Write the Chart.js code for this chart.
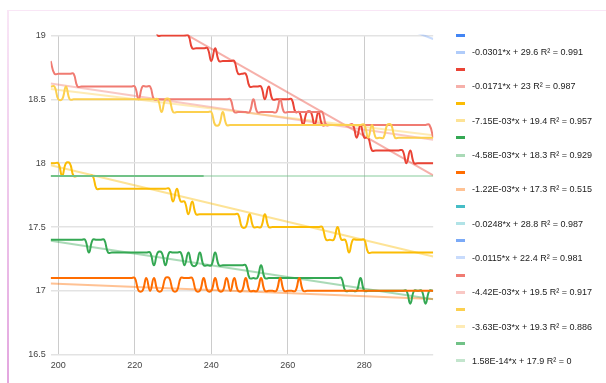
<!DOCTYPE html>
<html>
<head>
<meta charset="utf-8">
<title>Series with linear trendlines</title>
<script src="https://cdn.jsdelivr.net/npm/chart.js@4.4.1/dist/chart.umd.min.js"></script>
<style>
  html, body { margin: 0; padding: 0; background: #ffffff; }
  #wrap { position: relative; width: 606px; height: 383px; overflow: hidden;
          font-family: "Liberation Sans", Arial, sans-serif; }
  #frameTop { position: absolute; left: 7px; top: 10px; right: 0; height: 1px; background: #f9e6f6; }
  #frameLeft { position: absolute; left: 7px; top: 10px; width: 2px; bottom: 0;
               background: linear-gradient(to bottom, #f9e6f6, #e3a6df); }
  #chart { position: absolute; left: 0; top: 0; }
  #legend { position: absolute; left: 0; top: 0; width: 606px; height: 383px; pointer-events: none; }
  .swatch { position: absolute; left: 456px; width: 9px; height: 3px; }
  .label { position: absolute; left: 472px; height: 12px; line-height: 12px; font-size: 9px;
           color: #222222; white-space: nowrap; }
</style>
</head>
<body>
<div id="wrap">
  <div id="frameTop"></div>
  <div id="frameLeft"></div>
  <canvas id="chart" width="606" height="383"></canvas>
  <div id="legend"></div>
</div>
<script>
// Sample positions on the x axis (one reading per unit step).
const xValues = Array.from({ length: 101 }, (_, i) => 198 + i);

// Axis ticks.
const xTicks = [200, 220, 240, 260, 280];
const yTicks = [16.5, 17, 17.5, 18, 18.5, 19];
const yTickLabels = ['16.5', '17', '17.5', '18', '18.5', '19'];

// Series colours.
const seriesColors = ['#4285F4', '#EA4335', '#FBBC04', '#34A853', '#FF6D01',
                      '#46BDC6', '#7BAAF7', '#F07B72', '#FCD04F', '#71C287'];

// Linear trendline equations (slope, intercept) and their legend texts.
const trendSlopes = [-0.0301, -0.0171, -7.15e-3, -4.58e-3, -1.22e-3,
                     -0.0248, -0.0115, -4.42e-3, -3.63e-3, 1.58e-14];
const trendIntercepts = [29.6, 23, 19.4, 18.3, 17.3, 28.8, 22.4, 19.5, 19.3, 17.9];
const trendLabels = [
  '-0.0301*x + 29.6 R\u00B2 = 0.991',
  '-0.0171*x + 23 R\u00B2 = 0.987',
  '-7.15E-03*x + 19.4 R\u00B2 = 0.957',
  '-4.58E-03*x + 18.3 R\u00B2 = 0.929',
  '-1.22E-03*x + 17.3 R\u00B2 = 0.515',
  '-0.0248*x + 28.8 R\u00B2 = 0.987',
  '-0.0115*x + 22.4 R\u00B2 = 0.981',
  '-4.42E-03*x + 19.5 R\u00B2 = 0.917',
  '-3.63E-03*x + 19.3 R\u00B2 = 0.886',
  '1.58E-14*x + 17.9 R\u00B2 = 0'
];

// Series readings, x = 198 ... 298.
// Series 1, 6 and 7 run above the 19 ceiling of the window, so none of their points are in view.
const series1 = [];
const series2 = [
  19.6, 19.6, 19.6, 19.5, 19.5, 19.5, 19.5, 19.5, 19.5, 19.4,
  19.4, 19.4, 19.4, 19.4, 19.4, 19.3, 19.3, 19.3, 19.3, 19.3,
  19.3, 19.2, 19.2, 19.2, 19.2, 19.1, 19.1, 19.1, 19.0, 19.0,
  19.0, 19.0, 19.0, 19.0, 19.0, 19.0, 19.0, 18.9, 18.9, 18.9,
  18.9, 18.9, 18.8, 18.9, 18.8, 18.8, 18.8, 18.8, 18.8, 18.7,
  18.7, 18.7, 18.6, 18.6, 18.6, 18.6, 18.5, 18.6, 18.5, 18.5,
  18.5, 18.5, 18.5, 18.5, 18.4, 18.4, 18.3, 18.4, 18.4, 18.3,
  18.4, 18.3, 18.3, 18.3, 18.3, 18.3, 18.3, 18.3, 18.3, 18.3,
  18.2, 18.3, 18.2, 18.2, 18.1, 18.1, 18.1, 18.1, 18.1, 18.1,
  18.1, 18.1, 18.1, 18.0, 18.1, 18.0, 18.0, 18.0, 18.0, 18.0,
  18.0
];
const series3 = [
  18.0, 18.0, 18.0, 17.9, 18.0, 18.0, 17.9, 17.9, 17.9, 17.9,
  17.9, 17.9, 17.8, 17.8, 17.8, 17.8, 17.8, 17.8, 17.8, 17.8,
  17.8, 17.8, 17.8, 17.8, 17.8, 17.8, 17.8, 17.8, 17.8, 17.8,
  17.8, 17.8, 17.7, 17.8, 17.7, 17.7, 17.6, 17.7, 17.6, 17.6,
  17.6, 17.6, 17.6, 17.6, 17.6, 17.6, 17.6, 17.6, 17.6, 17.6,
  17.5, 17.5, 17.6, 17.5, 17.5, 17.5, 17.6, 17.5, 17.5, 17.5,
  17.5, 17.5, 17.5, 17.5, 17.5, 17.5, 17.5, 17.5, 17.5, 17.5,
  17.5, 17.5, 17.4, 17.4, 17.4, 17.5, 17.4, 17.4, 17.3, 17.4,
  17.4, 17.4, 17.4, 17.3, 17.3, 17.3, 17.3, 17.3, 17.3, 17.3,
  17.3, 17.3, 17.3, 17.3, 17.3, 17.3, 17.3, 17.3, 17.3, 17.3,
  17.3
];
const series4 = [
  17.4, 17.4, 17.4, 17.4, 17.4, 17.4, 17.4, 17.4, 17.4, 17.4,
  17.3, 17.4, 17.4, 17.4, 17.4, 17.3, 17.3, 17.3, 17.3, 17.3,
  17.3, 17.3, 17.3, 17.3, 17.3, 17.3, 17.3, 17.2, 17.3, 17.3,
  17.2, 17.3, 17.3, 17.3, 17.3, 17.2, 17.3, 17.2, 17.2, 17.3,
  17.2, 17.2, 17.2, 17.3, 17.2, 17.2, 17.2, 17.2, 17.2, 17.2,
  17.2, 17.2, 17.1, 17.1, 17.1, 17.2, 17.1, 17.1, 17.1, 17.1,
  17.1, 17.1, 17.1, 17.1, 17.1, 17.1, 17.1, 17.1, 17.1, 17.1,
  17.1, 17.1, 17.1, 17.1, 17.1, 17.1, 17.1, 17.0, 17.0, 17.0,
  17.0, 17.1, 17.0, 17.0, 17.0, 17.0, 17.0, 17.0, 17.0, 17.0,
  17.0, 17.0, 17.0, 17.0, 16.9, 17.0, 17.0, 17.0, 16.9, 17.0,
  17.0
];
const series5 = [
  17.1, 17.1, 17.1, 17.1, 17.1, 17.1, 17.1, 17.1, 17.1, 17.1,
  17.1, 17.1, 17.1, 17.1, 17.1, 17.1, 17.1, 17.1, 17.1, 17.1,
  17.1, 17.1, 17.1, 17.0, 17.0, 17.1, 17.0, 17.1, 17.0, 17.0,
  17.1, 17.1, 17.0, 17.0, 17.1, 17.1, 17.1, 17.1, 17.0, 17.0,
  17.1, 17.0, 17.0, 17.1, 17.0, 17.0, 17.1, 17.0, 17.1, 17.0,
  17.0, 17.1, 17.0, 17.0, 17.0, 17.1, 17.0, 17.0, 17.0, 17.0,
  17.1, 17.0, 17.0, 17.0, 17.0, 17.1, 17.0, 17.0, 17.0, 17.0,
  17.0, 17.0, 17.0, 17.0, 17.0, 17.0, 17.0, 17.0, 17.0, 17.0,
  17.0, 17.0, 17.0, 17.0, 17.0, 17.0, 17.0, 17.0, 17.0, 17.0,
  17.0, 17.0, 17.0, 17.0, 17.0, 17.0, 17.0, 17.0, 17.0, 17.0,
  17.0
];
const series6 = [];
const series7 = [];
const series8 = [
  18.8, 18.7, 18.7, 18.7, 18.7, 18.7, 18.7, 18.6, 18.6, 18.6,
  18.6, 18.6, 18.6, 18.6, 18.6, 18.6, 18.6, 18.6, 18.6, 18.6,
  18.6, 18.6, 18.6, 18.5, 18.6, 18.6, 18.6, 18.5, 18.5, 18.5,
  18.5, 18.5, 18.5, 18.5, 18.5, 18.5, 18.5, 18.5, 18.5, 18.5,
  18.5, 18.5, 18.5, 18.5, 18.5, 18.5, 18.5, 18.5, 18.4, 18.4,
  18.4, 18.4, 18.4, 18.5, 18.4, 18.4, 18.4, 18.4, 18.4, 18.4,
  18.5, 18.4, 18.4, 18.4, 18.4, 18.4, 18.4, 18.4, 18.4, 18.4,
  18.4, 18.4, 18.3, 18.3, 18.3, 18.3, 18.3, 18.3, 18.3, 18.3,
  18.3, 18.3, 18.3, 18.3, 18.3, 18.3, 18.3, 18.3, 18.3, 18.3,
  18.3, 18.3, 18.3, 18.3, 18.3, 18.3, 18.3, 18.3, 18.3, 18.3,
  18.2
];
const series9 = [
  18.6, 18.6, 18.5, 18.5, 18.6, 18.5, 18.5, 18.5, 18.5, 18.5,
  18.5, 18.5, 18.5, 18.5, 18.5, 18.5, 18.5, 18.5, 18.5, 18.5,
  18.5, 18.5, 18.5, 18.5, 18.5, 18.5, 18.5, 18.5, 18.5, 18.4,
  18.5, 18.5, 18.4, 18.4, 18.4, 18.4, 18.4, 18.4, 18.4, 18.4,
  18.4, 18.4, 18.4, 18.3, 18.3, 18.4, 18.3, 18.3, 18.3, 18.3,
  18.3, 18.3, 18.3, 18.3, 18.3, 18.3, 18.3, 18.3, 18.3, 18.3,
  18.3, 18.3, 18.3, 18.3, 18.3, 18.3, 18.3, 18.3, 18.3, 18.3,
  18.3, 18.3, 18.3, 18.3, 18.3, 18.3, 18.3, 18.3, 18.3, 18.3,
  18.3, 18.3, 18.3, 18.2, 18.3, 18.2, 18.2, 18.2, 18.3, 18.3,
  18.2, 18.2, 18.2, 18.2, 18.2, 18.2, 18.2, 18.2, 18.2, 18.2,
  18.2
];
// Series 10 stops after x = 238.
const series10 = [
  17.9, 17.9, 17.9, 17.9, 17.9, 17.9, 17.9, 17.9, 17.9, 17.9,
  17.9, 17.9, 17.9, 17.9, 17.9, 17.9, 17.9, 17.9, 17.9, 17.9,
  17.9, 17.9, 17.9, 17.9, 17.9, 17.9, 17.9, 17.9, 17.9, 17.9,
  17.9, 17.9, 17.9, 17.9, 17.9, 17.9, 17.9, 17.9, 17.9, 17.9,
  17.9
];

const seriesValues = [series1, series2, series3, series4, series5,
                      series6, series7, series8, series9, series10];

function lighten(hex, alpha) {
  const n = parseInt(hex.slice(1), 16);
  return 'rgba(' + ((n >> 16) & 255) + ',' + ((n >> 8) & 255) + ',' + (n & 255) + ',' + alpha + ')';
}

const TREND_ALPHA = 0.42;
const xFirst = xValues[0];
const xLast = xValues[xValues.length - 1];
const lineClip = { left: 0, top: 1, right: 0, bottom: 0 };

const datasets = [];
// Trendlines sit underneath the data lines.
seriesColors.forEach((color, i) => {
  datasets.push({
    label: trendLabels[i],
    data: [
      { x: xFirst, y: trendSlopes[i] * xFirst + trendIntercepts[i] },
      { x: xLast, y: trendSlopes[i] * xLast + trendIntercepts[i] }
    ],
    borderColor: lighten(color, TREND_ALPHA),
    borderWidth: 2,
    pointRadius: 0,
    tension: 0,
    clip: lineClip,
    order: 200 - i
  });
});
// Data lines (smoothed), later series drawn over earlier ones.
seriesColors.forEach((color, i) => {
  datasets.push({
    label: '',
    data: seriesValues[i].map((v, k) => ({ x: xValues[k], y: v })),
    borderColor: color,
    borderWidth: 2,
    pointRadius: 0,
    tension: 0.45,
    clip: lineClip,
    order: 100 - i
  });
});

const tickFont = { family: '"Liberation Sans", Arial, sans-serif', size: 9 };

new Chart(document.getElementById('chart'), {
  type: 'line',
  data: { datasets },
  options: {
    responsive: false,
    animation: false,
    devicePixelRatio: 1,
    layout: { padding: { left: 0, top: 35.5, right: 172.8, bottom: 0 } },
    plugins: { legend: { display: false }, tooltip: { enabled: false } },
    elements: { point: { radius: 0 }, line: { capBezierPoints: false } },
    scales: {
      x: {
        type: 'linear',
        min: xFirst,
        max: xLast,
        afterBuildTicks: axis => { axis.ticks = xTicks.map(v => ({ value: v })); },
        afterFit: axis => { axis.height = 28.3; },
        grid: { color: '#cccccc', lineWidth: 1, drawTicks: false },
        border: { display: false },
        ticks: { padding: 5, color: '#444444', font: tickFont, maxRotation: 0,
                 callback: v => String(v) }
      },
      y: {
        type: 'linear',
        min: yTicks[0],
        max: yTicks[yTicks.length - 1],
        afterBuildTicks: axis => { axis.ticks = yTicks.map(v => ({ value: v })); },
        afterFit: axis => { axis.width = 50.65; },
        grid: { color: '#e3e3e3', lineWidth: 1.6, drawTicks: false },
        border: { display: false },
        ticks: { padding: 5, color: '#444444', font: tickFont,
                 callback: (v, idx) => yTickLabels[idx] }
      }
    }
  }
});

// Legend: one swatch per data series followed by one for its trendline.
const legend = document.getElementById('legend');
const ROW_TOP = 35;
const ROW_STEP = 17.15;
let row = 0;
function addLegendRow(color, text) {
  const cy = ROW_TOP + row * ROW_STEP;
  const sw = document.createElement('div');
  sw.className = 'swatch';
  sw.style.top = (cy - 1.5) + 'px';
  sw.style.background = color;
  legend.appendChild(sw);
  if (text) {
    const lb = document.createElement('div');
    lb.className = 'label';
    lb.style.top = (cy - 6) + 'px';
    lb.textContent = text;
    legend.appendChild(lb);
  }
  row++;
}
seriesColors.forEach((color, i) => {
  addLegendRow(color, '');
  addLegendRow(lighten(color, TREND_ALPHA), trendLabels[i]);
});
</script>
</body>
</html>
